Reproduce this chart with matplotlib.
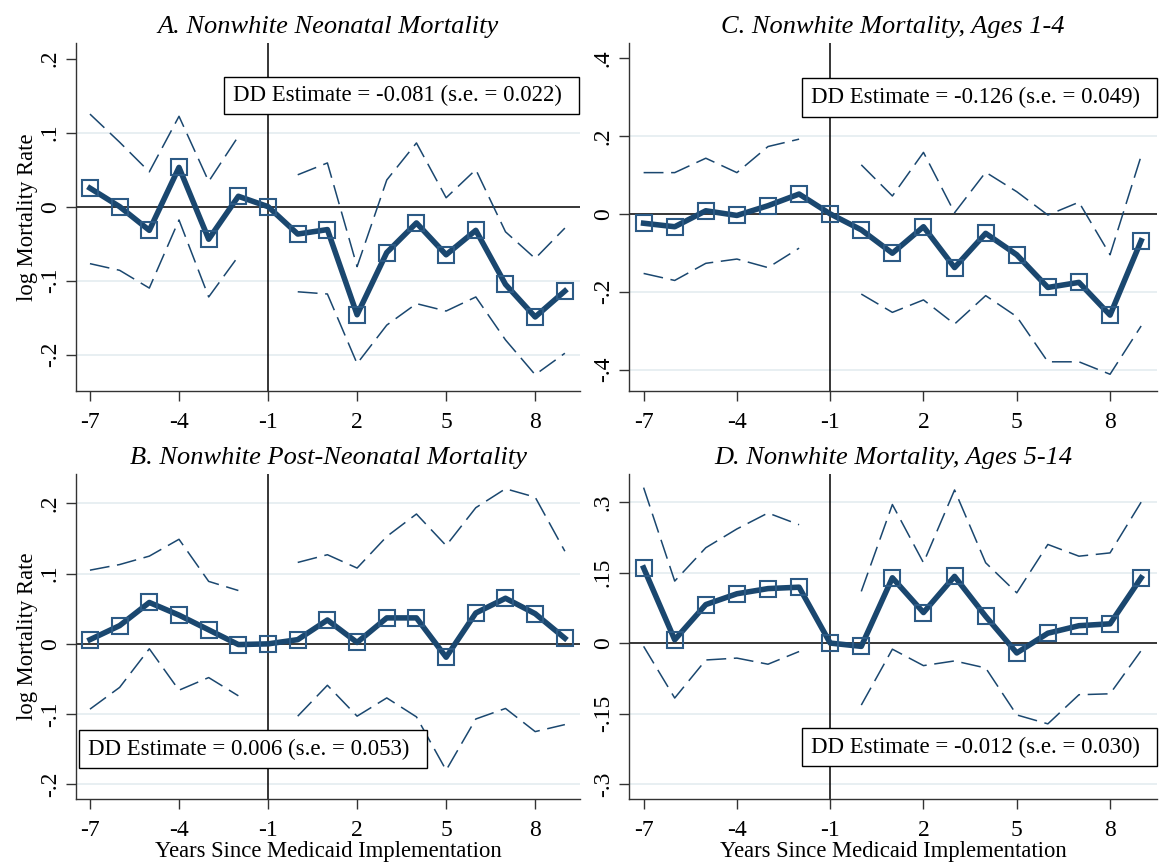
import matplotlib.pyplot as plt
from matplotlib.patches import Rectangle
import numpy as np

plt.rcParams['font.family'] = ['Liberation Serif', 'DejaVu Serif']
plt.rcParams['axes.unicode_minus'] = False

years = np.arange(-7, 10)
nan = np.nan

# A. neonatal
a_est = [0.025, 0.0, -0.032, 0.053, -0.044, 0.014, 0.0, -0.037, -0.031, -0.146,
         -0.062, -0.022, -0.065, -0.032, -0.105, -0.149, -0.114]
a_hi = [0.125, 0.087, 0.047, 0.122, 0.034, 0.095, nan, 0.043, 0.059, -0.081,
        0.036, 0.086, 0.012, 0.050, -0.034, -0.070, -0.029]
a_lo = [-0.077, -0.086, -0.110, -0.018, -0.122, -0.067, nan, -0.115, -0.118, -0.212,
        -0.160, -0.131, -0.141, -0.122, -0.180, -0.227, -0.198]

# B. post-neonatal
b_est = [0.006, 0.026, 0.059, 0.041, 0.020, -0.001, 0.0, 0.006, 0.034, 0.002,
         0.037, 0.037, -0.019, 0.044, 0.065, 0.043, 0.008]
b_hi = [0.105, 0.113, 0.125, 0.149, 0.089, 0.076, nan, 0.116, 0.127, 0.108,
        0.153, 0.185, 0.140, 0.194, 0.221, 0.209, 0.132]
b_lo = [-0.093, -0.062, -0.007, -0.066, -0.048, -0.074, nan, -0.103, -0.059, -0.103,
        -0.077, -0.104, -0.180, -0.107, -0.092, -0.125, -0.115]

# C. ages 1-4
c_est = [-0.024, -0.033, 0.008, -0.004, 0.021, 0.051, 0.0, -0.041, -0.101, -0.033,
         -0.138, -0.050, -0.105, -0.189, -0.176, -0.260, -0.069]
c_hi = [0.106, 0.106, 0.143, 0.106, 0.173, 0.192, nan, 0.126, 0.046, 0.158,
        0.003, 0.107, 0.057, -0.003, 0.030, -0.105, 0.149]
c_lo = [-0.153, -0.171, -0.127, -0.116, -0.138, -0.088, nan, -0.206, -0.253, -0.221,
        -0.283, -0.210, -0.264, -0.380, -0.380, -0.412, -0.288]

# D. ages 5-14
d_est = [0.160, 0.007, 0.082, 0.105, 0.116, 0.119, 0.0, -0.007, 0.139, 0.065,
         0.142, 0.057, -0.021, 0.021, 0.037, 0.041, 0.139]
d_hi = [0.331, 0.132, 0.203, 0.243, 0.277, 0.252, nan, 0.110, 0.295, 0.171,
        0.326, 0.171, 0.107, 0.210, 0.185, 0.192, 0.300]
d_lo = [-0.007, -0.117, -0.036, -0.032, -0.045, -0.018, nan, -0.132, -0.013, -0.048,
        -0.038, -0.053, -0.153, -0.172, -0.110, -0.108, -0.016]

titles = ["A. Nonwhite Neonatal Mortality", "C. Nonwhite Mortality, Ages 1-4",
          "B. Nonwhite Post-Neonatal Mortality", "D. Nonwhite Mortality, Ages 5-14"]
dd_text = ["DD Estimate = -0.081 (s.e. = 0.022)", "DD Estimate = -0.126 (s.e. = 0.049)",
           "DD Estimate = 0.006 (s.e. = 0.053)", "DD Estimate = -0.012 (s.e. = 0.030)"]

yt_a = [-0.2, -0.1, 0, 0.1, 0.2]
yl_a = ["-.2", "-.1", "0", ".1", ".2"]
yt_b = [-0.2, -0.1, 0, 0.1, 0.2]
yl_b = ["-.2", "-.1", "0", ".1", ".2"]
yt_c = [-0.4, -0.2, 0, 0.2, 0.4]
yl_c = ["-.4", "-.2", "0", ".2", ".4"]
yt_d = [-0.3, -0.15, 0, 0.15, 0.3]
yl_d = ["-.3", "-.15", "0", ".15", ".3"]
xt = [-7, -4, -1, 2, 5, 8]

navy = '#1a476f'
W, H = 1163, 866
fig = plt.figure(figsize=(W / 100, H / 100), dpi=100)


def px_axes(l, r, t, b):
    return fig.add_axes([l / W, 1 - b / H, (r - l) / W, (b - t) / H])


panels = [
    # est, hi, lo, yticks, ylabels, ylim, box (l, r, t, b), rect, top gridline
    (a_est, a_hi, a_lo, yt_a, yl_a, (-0.249, 0.221), (224, 579, 77, 114), (76, 580, 43, 391), False),
    (c_est, c_hi, c_lo, yt_c, yl_c, (-0.455, 0.439), (802, 1157, 78, 117), (629, 1157, 43, 391), False),
    (b_est, b_hi, b_lo, yt_b, yl_b, (-0.221, 0.242), (79, 427, 730, 768), (76, 580, 474, 799), True),
    (d_est, d_hi, d_lo, yt_d, yl_d, (-0.332, 0.360), (802, 1157, 728, 766), (629, 1157, 474, 799), True),
]

for i, (est, hi, lo, yt, yl, ylim, box, rect, topgrid) in enumerate(panels):
    ax = px_axes(*rect)
    ax.set_xlim(-7.47, 9.51)
    ax.set_ylim(*ylim)
    for side in ['top', 'right']:
        ax.spines[side].set_visible(False)
    for side in ['left', 'bottom']:
        ax.spines[side].set_color('#333333')
        ax.spines[side].set_linewidth(1.0)

    ax.set_yticks(yt, yl)
    ax.set_xticks(xt, [str(x) for x in xt])
    ax.tick_params(colors='#333333', labelcolor='black', length=7, width=1.0,
                   labelsize=17)
    ax.tick_params(axis='x', pad=8)
    ax.tick_params(axis='y', pad=4)
    for lab in ax.get_yticklabels():
        lab.set_rotation(90)
        lab.set_va('center')

    for v in (yt if topgrid else yt[:-1]):
        if v != 0:
            ax.axhline(v, color='#e6eef1', lw=1.3, zorder=0)
    ax.axhline(0, color='black', lw=1.1, zorder=1)
    ax.axvline(-1, color='black', lw=1.1, zorder=1)

    ax.plot(years, hi, color=navy, lw=1.1, dashes=(13, 5), zorder=2)
    ax.plot(years, lo, color=navy, lw=1.1, dashes=(13, 5), zorder=2)
    ax.plot(years, est, color=navy, lw=4.0, zorder=3)
    ax.plot(years, est, ls='none', marker='s', ms=11, mfc='none', mec='#2c5a85',
            mew=1.5, zorder=4)

    # panel title, baseline ~10 px above the plot region
    cx = (rect[0] + rect[1]) / 2
    fig.text(cx / W, 1 - (rect[2] - 10) / H, titles[i], ha='center',
             va='baseline', fontsize=19, style='italic')

    # DD estimate box
    bl, br, bt, bb = box
    fig.patches.append(Rectangle((bl / W, 1 - bb / H), (br - bl) / W, (bb - bt) / H,
                                 transform=fig.transFigure, fc='white', ec='black',
                                 lw=1.0, zorder=10))
    fig.text((bl + 9) / W, 1 - (bt + bb) / 2 / H, dd_text[i], ha='left',
             va='center', fontsize=16.4, zorder=11)

    if rect[0] < 300:
        ax.set_ylabel("log Mortality Rate", fontsize=16.3, labelpad=1)
    if rect[3] > 600:
        ax.set_xlabel("Years Since Medicaid Implementation", fontsize=16.3,
                      labelpad=0)

fig.savefig('out.png', dpi=100)
